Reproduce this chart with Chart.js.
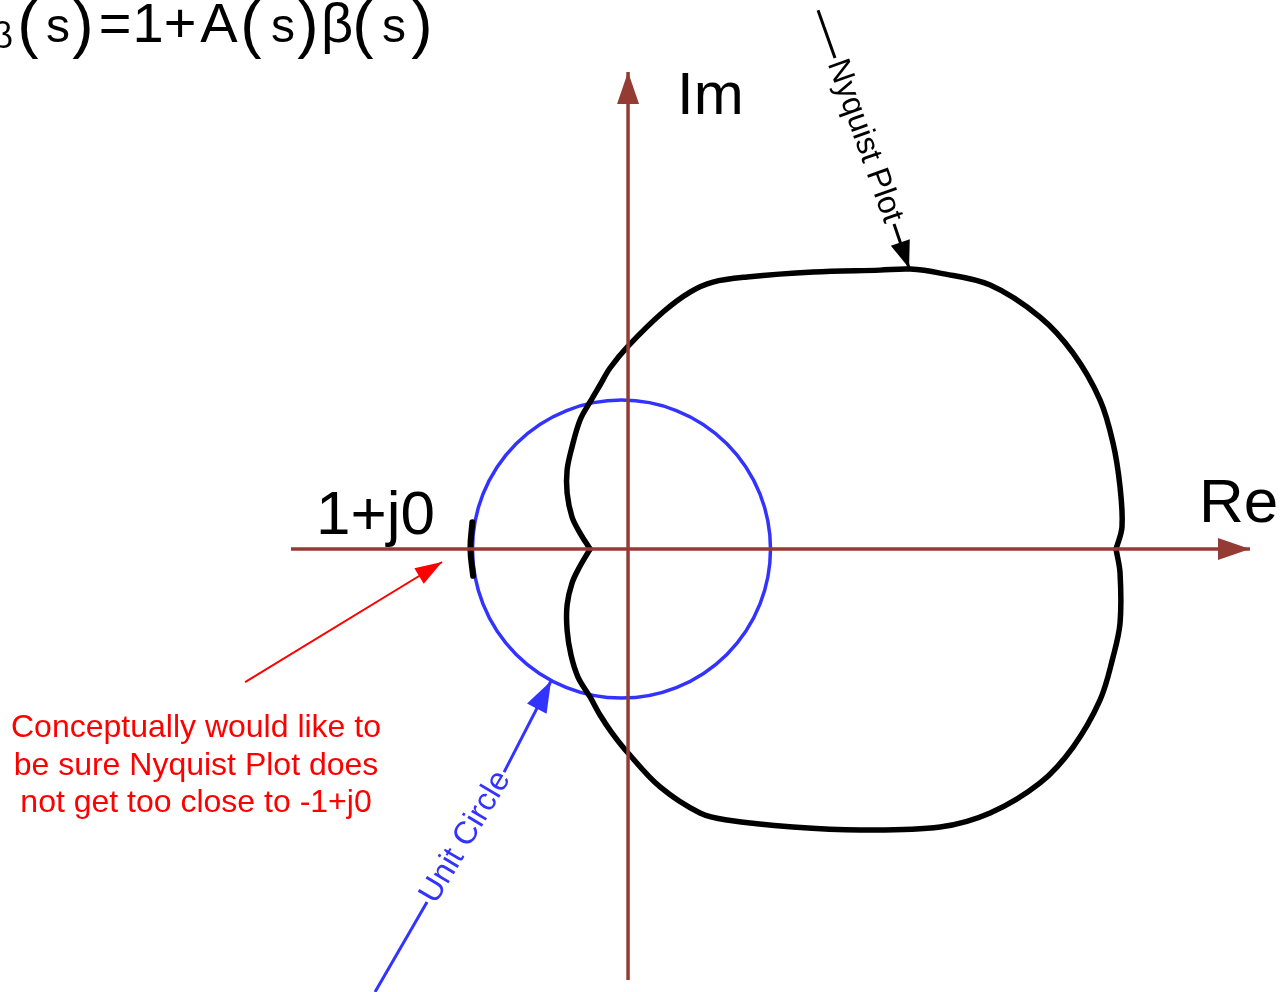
<!DOCTYPE html>
<html lang="en">
<head>
<meta charset="UTF-8">
<title>Nyquist Plot</title>
<script src="https://cdn.jsdelivr.net/npm/chart.js"></script>
<style>
    html, body { margin: 0; padding: 0; background: #fff; }
    canvas { display: block; }
</style>
</head>
<body>
<canvas id="nyquist" width="1285" height="992"></canvas>
<script>
// Nyquist contour of 1 + A(s)B(s), in units of the unit circle radius
const upperRe = [-0.255, -0.322, -0.376, -0.409, -0.409, -0.376, -0.322, -0.255, -0.188, -0.121, 0, 0.235, 0.416, 0.570, 0.799, 1.242, 1.691, 1.893, 2.094, 2.430, 2.765, 2.987, 3.168, 3.255, 3.302, 3.315, 3.275];
const upperIm = [0, 0.107, 0.215, 0.376, 0.530, 0.685, 0.866, 0.987, 1.101, 1.215, 1.362, 1.591, 1.725, 1.792, 1.826, 1.859, 1.872, 1.879, 1.852, 1.772, 1.557, 1.315, 1.000, 0.711, 0.416, 0.148, 0];
const lowerRe = [-0.255, -0.322, -0.376, -0.409, -0.409, -0.383, -0.336, -0.255, -0.188, -0.107, 0, 0.215, 0.483, 0.664, 1.107, 1.557, 2.094, 2.430, 2.765, 2.987, 3.168, 3.255, 3.302, 3.302, 3.275];
const lowerIm = [0, -0.114, -0.228, -0.376, -0.544, -0.711, -0.859, -0.993, -1.114, -1.235, -1.369, -1.597, -1.772, -1.819, -1.866, -1.886, -1.866, -1.772, -1.570, -1.329, -1.013, -0.725, -0.497, -0.161, 0];

// unit circle (centre on the real axis) and the -1+j0 marker
const circleCentre = -0.044;
const circleRadius = 1.0;
const criticalRe = [-1.045, -1.058, -1.040];
const criticalIm = [0.18, 0, -0.18];

// axes
const realAxisRe = [-2.262, 4.174];
const imAxisIm = [-2.893, 3.201];

// callout lines: [re, im] pairs, each split around its label
const nyqTail = [[1.275, 3.617], [1.389, 3.295]];
const nyqHead = [[1.785, 2.181], [1.886, 1.886]];
const ucTail = [[-1.698, -2.973], [-1.349, -2.369]];
const ucHead = [[-0.832, -1.497], [-0.517, -0.886]];
const noteArrow = [[-2.570, -0.893], [-1.248, -0.087]];

const noteLines = ['Conceptually would like to', 'be sure Nyquist Plot does', 'not get too close to -1+j0'];

const FONT = '"Liberation Sans", Arial, sans-serif';
const AXIS = '#943c34';
const BLUE = '#3333ff';
const RED = '#ff0000';

const zip = (re, im) => re.map((r, i) => ({ x: r, y: im[i] }));
const pairs = arr => arr.map(p => ({ x: p[0], y: p[1] }));

function lineSet(data, color, width, extra) {
    return Object.assign({
        data: data,
        showLine: true,
        borderColor: color,
        backgroundColor: color,
        borderWidth: width,
        pointRadius: 0,
        tension: 0,
        fill: false
    }, extra || {});
}

const datasets = [
    lineSet([{ x: realAxisRe[0], y: 0 }, { x: realAxisRe[1], y: 0 }], AXIS, 3.5, { order: 0, arrowHead: [32, 22] }),
    lineSet([{ x: 0, y: imAxisIm[0] }, { x: 0, y: imAxisIm[1] }], AXIS, 3.5, { order: 0, arrowHead: [32, 22] }),
    lineSet(zip(upperRe, upperIm), '#000', 5.5, { order: 1, tension: 0.35, borderCapStyle: 'round', borderJoinStyle: 'round' }),
    lineSet(zip(lowerRe, lowerIm), '#000', 5.5, { order: 1, tension: 0.35, borderCapStyle: 'round', borderJoinStyle: 'round' }),
    lineSet(zip(criticalRe, criticalIm), '#000', 6, { order: 0, tension: 0.4, borderCapStyle: 'round' }),
    lineSet(pairs(nyqTail), '#000', 3, { order: 0 }),
    lineSet(pairs(nyqHead), '#000', 3, { order: 0, arrowHead: [27, 20], label: 'Nyquist Plot', labelColor: '#000', tailIndex: 5 }),
    lineSet(pairs(ucTail), BLUE, 3, { order: 0 }),
    lineSet(pairs(ucHead), BLUE, 3, { order: 0, arrowHead: [31, 22], label: 'Unit Circle', labelColor: BLUE, tailIndex: 7 }),
    lineSet(pairs(noteArrow), RED, 2, { order: 0, arrowHead: [27, 18] })
];

// unit circle, drawn under the curves through the chart scales
const circlePlugin = {
    id: 'unitCircle',
    beforeDatasetsDraw(chart) {
        const { ctx, scales: { x, y } } = chart;
        const cx = x.getPixelForValue(circleCentre);
        const cy = y.getPixelForValue(0);
        const rx = x.getPixelForValue(circleCentre + circleRadius) - cx;
        const ry = cy - y.getPixelForValue(circleRadius);
        ctx.save();
        ctx.strokeStyle = BLUE;
        ctx.lineWidth = 3.5;
        ctx.beginPath();
        ctx.ellipse(cx, cy, rx, ry, 0, 0, Math.PI * 2);
        ctx.stroke();
        ctx.restore();
    }
};

// arrow heads at the last point of a dataset, plus labels set in callout gaps
const arrowPlugin = {
    id: 'arrows',
    afterDatasetsDraw(chart) {
        const ctx = chart.ctx;
        chart.data.datasets.forEach((ds, i) => {
            const pts = chart.getDatasetMeta(i).data;
            if (ds.arrowHead) {
                const tip = pts[pts.length - 1], prev = pts[pts.length - 2];
                const a = Math.atan2(tip.y - prev.y, tip.x - prev.x);
                const [len, w] = ds.arrowHead;
                const bx = tip.x - len * Math.cos(a), by = tip.y - len * Math.sin(a);
                const px = -Math.sin(a) * w / 2, py = Math.cos(a) * w / 2;
                ctx.save();
                ctx.fillStyle = ds.borderColor;
                ctx.beginPath();
                ctx.moveTo(tip.x, tip.y);
                ctx.lineTo(bx + px, by + py);
                ctx.lineTo(bx - px, by - py);
                ctx.closePath();
                ctx.fill();
                ctx.restore();
            }
            if (ds.label) {
                const tailPts = chart.getDatasetMeta(ds.tailIndex).data;
                const p0 = tailPts[tailPts.length - 1], p1 = pts[0];
                let a = Math.atan2(p1.y - p0.y, p1.x - p0.x);
                if (a > Math.PI / 2) a -= Math.PI;
                if (a < -Math.PI / 2) a += Math.PI;
                ctx.save();
                ctx.translate((p0.x + p1.x) / 2, (p0.y + p1.y) / 2);
                ctx.rotate(a);
                ctx.fillStyle = ds.labelColor;
                ctx.font = '32px ' + FONT;
                ctx.textAlign = 'center';
                ctx.textBaseline = 'middle';
                ctx.fillText(ds.label, 0, 0);
                ctx.restore();
            }
        });
    }
};

// axis names, the -1+j0 label, the equation and the red note
const textPlugin = {
    id: 'texts',
    afterDraw(chart) {
        const ctx = chart.ctx;
        ctx.save();
        ctx.fillStyle = '#000';
        ctx.textBaseline = 'alphabetic';
        ctx.textAlign = 'left';
        ctx.font = '60px ' + FONT;
        ctx.fillText('Im', 677, 114);
        ctx.font = '62px ' + FONT;
        ctx.fillText('Re', 1199, 522);
        ctx.fillText('1+j0', 316, 534);

        // equation along the top edge
        const eq = [
            ['(', 28, 64, 46], ['s', 58, 48, 42], [')', 83, 64, 46], ['=', 115, 56, 42],
            ['1', 148, 56, 42], ['+', 180, 56, 42], ['A', 219, 56, 42], ['(', 251, 64, 46],
            ['s', 283, 48, 42], [')', 308, 64, 46], ['\u03b2', 337, 56, 42], ['(', 363, 64, 46],
            ['s', 394, 48, 42], [')', 422, 64, 46]
        ];
        ctx.textAlign = 'center';
        eq.forEach(([t, cx, size, base]) => {
            ctx.font = size + 'px ' + FONT;
            ctx.fillText(t, cx, base);
        });
        ctx.textAlign = 'right';
        ctx.font = '36px ' + FONT;
        ctx.fillText('\u03b2', 13, 48);

        ctx.fillStyle = RED;
        ctx.textAlign = 'center';
        ctx.font = '32px ' + FONT;
        noteLines.forEach((line, i) => ctx.fillText(line, 196, 737 + i * 37.5));
        ctx.restore();
    }
};

new Chart(document.getElementById('nyquist'), {
    type: 'scatter',
    data: { datasets: datasets },
    options: {
        responsive: false,
        animation: false,
        events: [],
        layout: { padding: 0 },
        plugins: { legend: { display: false }, tooltip: { enabled: false } },
        scales: {
            x: { type: 'linear', min: -4.215, max: 4.409, display: false },
            y: { type: 'linear', min: -2.973, max: 3.685, display: false }
        }
    },
    plugins: [circlePlugin, arrowPlugin, textPlugin]
});
</script>
</body>
</html>
